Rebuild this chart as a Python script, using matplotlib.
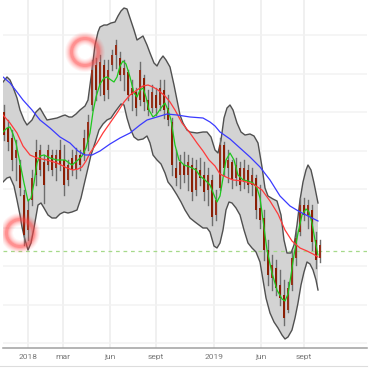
import matplotlib
matplotlib.use("Agg")
import matplotlib.pyplot as plt
import numpy as np
from matplotlib.patches import Circle, Rectangle

# ---- data (x = trading-day position, y = price, arbitrary units) ----
upper_x = [3, 7, 10, 13, 17, 20, 24, 27, 32, 36, 40, 44, 47, 52, 57, 62, 65, 69, 72, 76,
           80, 85, 88, 92, 95, 98, 100, 104, 107, 111, 115, 118, 121, 124, 127, 130, 134, 137, 140, 143,
           147, 150, 154, 157, 160, 163, 166, 170, 174, 177, 180, 183, 187, 190, 197, 203, 207, 211, 215, 218,
           221, 224, 227, 230, 233, 237, 241, 245, 250, 254, 258, 262, 265, 268, 273, 277, 281, 284, 287, 291,
           294, 297, 300, 303, 306, 308, 311, 314, 318]
upper = [318, 323, 320, 313, 302, 290, 280, 275, 280, 288, 292, 285, 280, 281, 282, 284, 285, 283, 283, 286,
         290, 294, 300, 330, 355, 368, 373, 375, 375, 377, 378, 384, 389, 392, 391, 382, 370, 360, 362, 364,
         355, 347, 337, 334, 340, 344, 340, 333, 315, 300, 285, 277, 270, 268, 267, 268, 268, 263, 250, 247,
         260, 282, 292, 295, 290, 277, 268, 265, 266, 264, 257, 233, 212, 204, 201, 199, 185, 160, 147, 147,
         155, 175, 200, 218, 230, 235, 230, 217, 197]

lower_x = [3, 7, 10, 14, 17, 20, 22, 25, 28, 31, 34, 38, 41, 44, 48, 52, 56, 60, 64, 68,
           72, 77, 81, 84, 88, 91, 95, 99, 103, 107, 111, 115, 118, 121, 124, 127, 130, 134, 138, 143,
           147, 150, 153, 157, 161, 165, 168, 172, 177, 181, 185, 190, 195, 199, 203, 207, 210, 214, 217, 220,
           223, 226, 229, 232, 236, 240, 244, 248, 252, 256, 260, 263, 266, 270, 274, 278, 282, 285, 288, 292,
           295, 298, 301, 304, 307, 310, 313, 316, 318]
lower = [218, 222, 223, 214, 200, 185, 173, 160, 150, 157, 172, 195, 197, 192, 185, 182, 182, 186, 188, 187,
         188, 190, 202, 215, 232, 245, 257, 270, 276, 280, 282, 288, 292, 296, 295, 282, 272, 263, 260, 261,
         264, 257, 245, 240, 236, 227, 218, 213, 205, 198, 190, 182, 178, 175, 172, 172, 168, 154, 152, 157,
         170, 190, 198, 197, 192, 185, 170, 157, 152, 148, 138, 120, 102, 87, 78, 72, 65, 61, 63, 70,
         82, 97, 115, 128, 138, 136, 130, 120, 110]

green_x = [3, 7, 10, 13, 16, 20, 24, 28, 31, 34, 37, 40, 44, 50, 57, 65, 72, 78, 82, 86,
           90, 93, 96, 100, 104, 107, 111, 114, 117, 120, 123, 126, 130, 134, 137, 140, 143, 146, 149, 153,
           157, 161, 165, 168, 171, 175, 179, 184, 190, 196, 200, 205, 210, 214, 217, 220, 223, 226, 230, 234,
           238, 243, 248, 253, 257, 260, 263, 267, 272, 277, 282, 285, 288, 291, 294, 298, 302, 306, 309, 312,
           315, 318]
green = [268, 272, 273, 266, 257, 237, 217, 199, 202, 217, 237, 244, 245, 242, 240, 240, 235, 240, 244, 252,
         267, 288, 303, 316, 322, 323, 320, 318, 323, 334, 339, 336, 323, 307, 303, 310, 312, 303, 290, 283,
         286, 292, 297, 290, 280, 255, 240, 235, 233, 230, 224, 220, 215, 205, 198, 204, 222, 240, 247, 240,
         225, 220, 219, 217, 212, 202, 180, 150, 127, 110, 101, 99, 106, 125, 145, 167, 185, 191, 188, 177,
         160, 145]

red_x = [3, 10, 17, 23, 30, 37, 47, 57, 67, 73, 78, 82, 86, 90, 97, 103, 110, 117, 124, 130,
         137, 143, 148, 153, 158, 165, 170, 175, 182, 190, 197, 203, 209, 215, 220, 226, 233, 243, 253, 262,
         270, 278, 285, 292, 300, 307, 313, 318]
red = [285, 277, 267, 254, 245, 242, 240, 237, 232, 230, 231, 233, 239, 247, 257, 267, 277, 287, 298, 305,
       310, 314, 315, 313, 310, 304, 298, 290, 277, 267, 257, 249, 240, 234, 226, 223, 220, 219, 216, 210,
       199, 186, 170, 159, 152, 149, 146, 143]

blue_x = [3, 10, 17, 23, 32, 40, 50, 60, 70, 78, 85, 92, 100, 110, 120, 130, 140, 147, 157, 167,
          177, 190, 203, 210, 215, 220, 230, 240, 250, 260, 270, 280, 290, 300, 310, 318]
blue = [323, 317, 308, 300, 290, 280, 272, 263, 257, 249, 245, 245, 249, 256, 262, 267, 275, 280, 283, 286,
        285, 283, 282, 278, 274, 268, 261, 252, 243, 233, 220, 204, 194, 188, 183, 179]

candle_x = list(range(4, 321, 4))
c_open = [288, 272, 262, 242, 235, 205, 170, 200, 248, 230, 238, 235, 245, 232, 250, 240, 220, 242, 230, 245,
          245, 258, 295, 335, 315, 335, 310, 335, 345, 342, 325, 328, 305, 308, 300, 322, 300, 292, 305, 295,
          310, 292, 278, 232, 225, 235, 225, 235, 210, 230, 225, 210, 220, 185, 212, 255, 232, 238, 222, 232,
          218, 230, 215, 222, 192, 182, 150, 122, 132, 115, 105, 90, 115, 142, 168, 195, 185, 190, 160, 142]
c_high = [295, 280, 270, 260, 240, 210, 200, 230, 260, 255, 245, 255, 250, 250, 260, 255, 240, 250, 252, 250,
          270, 285, 340, 342, 345, 340, 340, 350, 360, 348, 340, 330, 320, 312, 338, 325, 310, 315, 312, 320,
          320, 305, 282, 250, 245, 248, 245, 242, 240, 242, 238, 232, 225, 210, 262, 258, 250, 240, 242, 238,
          240, 235, 232, 225, 215, 190, 160, 145, 140, 130, 120, 118, 150, 170, 202, 202, 200, 195, 168, 160]
c_low = [260, 250, 230, 220, 205, 155, 160, 195, 215, 225, 197, 230, 225, 220, 230, 205, 215, 225, 222, 230,
         240, 250, 290, 300, 305, 300, 302, 330, 332, 320, 310, 300, 290, 285, 295, 290, 285, 288, 285, 290,
         282, 275, 225, 215, 212, 218, 210, 200, 205, 215, 200, 195, 175, 180, 210, 225, 218, 212, 215, 210,
         212, 208, 205, 182, 172, 140, 115, 110, 105, 95, 75, 88, 110, 135, 165, 180, 172, 150, 132, 138]
c_close = [265, 258, 240, 250, 212, 165, 190, 222, 225, 250, 215, 250, 230, 245, 235, 215, 235, 230, 245, 235,
           262, 278, 330, 310, 338, 305, 330, 345, 355, 325, 332, 305, 312, 292, 330, 298, 290, 308, 292, 312,
           290, 280, 235, 222, 238, 225, 238, 208, 232, 222, 208, 225, 183, 200, 255, 232, 240, 220, 235, 215,
           232, 215, 225, 190, 180, 150, 125, 135, 112, 102, 82, 112, 142, 162, 195, 185, 195, 158, 140, 155]

support_level = 149
tick_pos = [28, 63, 110, 156, 214, 261, 304]
tick_labels = ["2018", "mar", "jun", "sept", "2019", "jun", "sept"]
grid_levels = [57, 95.5, 134, 172.5, 211, 249.5, 288, 326.5, 365]
highlights = [(85, 348), (20, 167)]

# ---- figure ----
fig = plt.figure(figsize=(3.70, 3.69), dpi=100)
ax = fig.add_axes([3 / 370, 21 / 369, 364 / 370, 348 / 369])
ax.set_xlim(3, 367)
ax.set_ylim(52, 400)

# grid
for gx in tick_pos:
    ax.axvline(gx, color="#ececec", lw=1.1, zorder=0)
for gy in grid_levels:
    ax.axhline(gy, color="#f2f2f2", lw=1.1, zorder=0)

# bollinger band
band_x = np.r_[upper_x, lower_x[::-1]]
band_y = np.r_[upper, lower[::-1]]
ax.fill(band_x, band_y, color="#d3d3d3", zorder=1, lw=0)
ax.plot(upper_x, upper, color="#505050", lw=1.0, zorder=2)
ax.plot(lower_x, lower, color="#505050", lw=1.0, zorder=2)

# candles
for x, o, h, l, c in zip(candle_x, c_open, c_high, c_low, c_close):
    ax.plot([x, x], [l, h], color="#6e6e6e", lw=1.0, zorder=3)
    col = "#8b1e04" if c < o else "#96301a"
    ax.add_patch(Rectangle((x - 1.2, min(o, c)), 2.4, abs(c - o), facecolor=col,
                           edgecolor="none", zorder=4))

# moving averages
ax.plot(green_x, green, color="#1ec81e", lw=0.9, zorder=5)
ax.plot(red_x, red, color="#ff3a3a", lw=0.9, zorder=5)
ax.plot(blue_x, blue, color="#3a3aff", lw=0.9, zorder=5)

ax.axhline(support_level, color="#a6d98a", lw=0.9, ls=(0, (3, 3)), zorder=1)

# glowing circles
for cx, cy in highlights:
    for lw, a in [(13, 0.05), (11, 0.07), (9, 0.09), (7, 0.12), (5, 0.18), (3, 0.28)]:
        ax.add_patch(Circle((cx, cy), 13.5, fill=False, edgecolor="#ff4646",
                            lw=lw * 0.72, alpha=a, zorder=7))

# axes styling
for s in ["top", "right", "left"]:
    ax.spines[s].set_visible(False)
ax.spines["bottom"].set_color("#a0a0a0")
ax.spines["bottom"].set_linewidth(1.1)
ax.set_yticks([])
ax.set_xticks(tick_pos)
ax.set_xticklabels(tick_labels, fontsize=6, color="#777777", family="Roboto")
ax.tick_params(axis="x", length=0, pad=4)

fig.add_artist(plt.Line2D([0, 367 / 370], [3 / 369, 3 / 369], color="#dddddd", lw=0.8))

fig.savefig("out.png", dpi=100)
